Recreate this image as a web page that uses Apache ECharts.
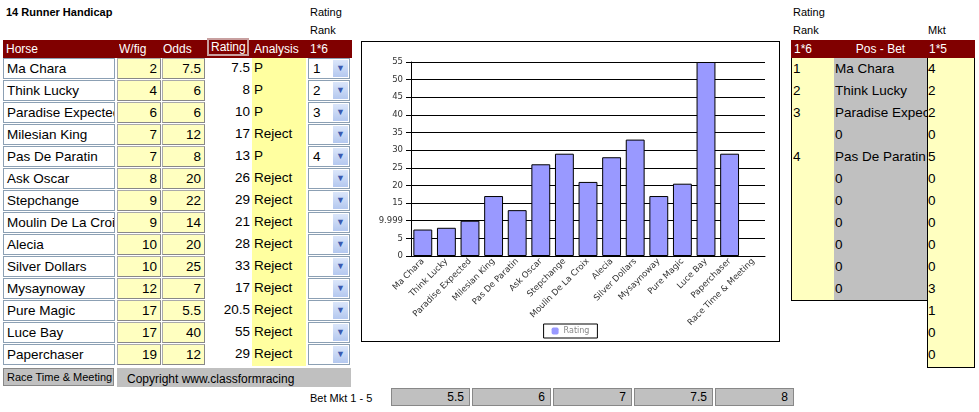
<!DOCTYPE html>
<html>
<head>
<meta charset="UTF-8">
<script src="https://cdn.jsdelivr.net/npm/echarts@6/dist/echarts.min.js"></script>
<style>
body{margin:0;width:979px;height:412px;background:#fff;font-family:"Liberation Sans",Arial,sans-serif;position:relative;overflow:hidden}
.a{position:absolute;white-space:nowrap;overflow:hidden;box-sizing:border-box}
.s{font-size:11px;color:#000}
.hd{background:#800000;color:#fff;font-size:12px;line-height:18px}
.c{font-size:13.5px;line-height:20px;height:21px}
.w{background:#fff;border:1px solid #8ca0b4;padding-left:3px}
.y{background:#ffffc0;border:1px solid #aaa;text-align:right;padding-right:3px;border-right-color:#888;border-bottom-color:#888}
.dd{background:#fff;border:1px solid #8ca0b4;padding-left:4px}
.arr{position:absolute;right:1px;top:1px;width:15px;height:17px;background:linear-gradient(#dbe6fa,#b4c8ef);color:#3a5ab0;font-size:9px;text-align:center;line-height:17px}
.g{background:#c0c0c0;border:1px solid #888;font-size:12px;line-height:16px}
#chart{position:absolute;left:361px;top:41px;width:419px;height:301px;border:1px solid #000;box-sizing:border-box}
</style>
</head>
<body>
<div id="chart"></div>
<script>
var horses = ['Ma Chara','Think Lucky','Paradise Expected','Milesian King','Pas De Paratin','Ask Oscar','Stepchange','Moulin De La Croix','Alecia','Silver Dollars','Mysaynoway','Pure Magic','Luce Bay','Paperchaser'];
var wfig = [2,4,6,7,7,8,9,9,10,10,12,17,17,19];
var odds = [7.5,6,6,12,8,20,22,14,20,25,7,5.5,40,12];
var ratings = [7.5,8,10,17,13,26,29,21,28,33,17,20.5,55,29];
var analysis = ['P','P','P','Reject','P','Reject','Reject','Reject','Reject','Reject','Reject','Reject','Reject','Reject'];
var rank = ['1','2','3','','4','','','','','','','','',''];
var posRank = ['1','2','3','','4','','','','','',''];
var posBet = ['Ma Chara','Think Lucky','Paradise Expected','0','Pas De Paratin','0','0','0','0','0','0'];
var mkt = ['4','2','2','0','5','0','0','0','0','0','3','1','0','0'];
var betMkt = [5.5,6,7,7.5,8];

var chartCats = horses.concat(['Race Time & Meeting']);
var chartVals = ratings.concat([null]);

var html = '';
function box(cls, x, y, w, h, txt, st){
  html += '<div class="a '+cls+'" style="left:'+x+'px;top:'+y+'px;width:'+w+'px;'+(h?'height:'+h+'px;':'')+(st||'')+'">'+txt+'</div>';
}
box('s',6,6,150,14,'<b>14 Runner Handicap</b>');
box('s',310,6,40,14,'Rating');
box('s',310,24,40,14,'Rank');
box('hd',3,40,349,18,'');
box('hd',6,40,60,18,'Horse','background:none');
box('hd',119,40,40,18,'W/fig','background:none');
box('hd',163,40,40,18,'Odds','background:none');
box('hd',207,38,42,18,'Rating','background:#800000;border:2px solid #c8a0a0;padding-left:2px;line-height:14px');
box('hd',254,40,52,18,'Analysis','background:none');
box('hd',310,40,30,18,'1*6','background:none');
box('',252,58,54,308,'','background:#ffffa0');
for (var i = 0; i < horses.length; i++) {
  var y = 58 + i*22;
  box('c w',3,y,112,21,horses[i]);
  box('c y',117,y,44,21,wfig[i]);
  box('c y',162,y,43,21,odds[i]);
  box('c',206,y,45,21,ratings[i],'text-align:right;padding-right:1px');
  box('c',253,y,53,21,analysis[i],'padding-left:1px');
  box('c dd',308,y,42,21,rank[i]+'<div class="arr">&#9660;</div>');
}
box('g',3,368,111,18,'Race Time &amp; Meeting','font-size:11px;padding-left:3px');
box('g',117,368,234,19,'Copyright www.classformracing','border:none;padding:3px 0 0 10px');
box('s',310,392,80,14,'Bet Mkt 1 - 5');
for (var j = 0; j < betMkt.length; j++) {
  box('g',391+j*81,388,79,18,betMkt[j],'text-align:right;padding-right:5px');
}
box('s',793,6,40,14,'Rating');
box('s',793,24,40,14,'Rank');
box('s',928,24,40,14,'Mkt');
box('hd',791,40,184,18,'');
box('hd',794,40,30,18,'1*6','background:none');
box('hd',834,40,93,18,'Pos - Bet','background:none;text-align:center');
box('hd',929,40,30,18,'1*5','background:none');
box('',791,58,43,243,'','background:#ffffc0;border-left:1px solid #000;border-bottom:1px solid #000');
box('',834,58,93,243,'','background:#c0c0c0;border-bottom:1px solid #000');
box('',927,58,48,310,'','background:#ffffc0;border-left:1px solid #000;border-right:1px solid #000;border-bottom:1px solid #000');
for (var k = 0; k < posBet.length; k++) {
  var yy = 59 + k*22;
  box('c',793,yy,40,21,posRank[k]);
  box('c',835,yy,92,21,posBet[k]);
}
for (var m = 0; m < mkt.length; m++) {
  box('c',928,59+m*22,40,21,mkt[m]);
}
document.body.insertAdjacentHTML('beforeend', html);

var chart = echarts.init(document.getElementById('chart'));
chart.setOption({
  animation: false,
  textStyle: {fontFamily: 'DejaVu Sans'},
  grid: {left: 49, right: 14, top: 20, bottom: 85},
  legend: {
    bottom: 3, left: 'center', itemWidth: 7, itemHeight: 7,
    borderColor: '#000', borderWidth: 1, padding: [3, 8],
    itemStyle: {borderWidth: 0},
    textStyle: {fontSize: 8, color: '#888'}
  },
  xAxis: {
    type: 'category', data: chartCats,
    axisLine: {lineStyle: {color: '#000'}},
    axisTick: {lineStyle: {color: '#000'}},
    axisLabel: {rotate: 45, fontSize: 8.5, color: '#333', interval: 0, margin: 4}
  },
  yAxis: {
    type: 'value', min: 0, max: 55, interval: 5,
    axisLine: {show: true, lineStyle: {color: '#000'}},
    axisTick: {show: true, lineStyle: {color: '#000'}},
    splitLine: {lineStyle: {color: '#000'}},
    axisLabel: {fontSize: 8.5, color: '#333', formatter: function (v) { return v === 10 ? '9.999' : v; }}
  },
  series: [{
    name: 'Rating', type: 'bar', data: chartVals, barWidth: '80%',
    itemStyle: {color: '#9999ff', borderColor: '#000', borderWidth: 1}
  }]
});
</script>
</body>
</html>
